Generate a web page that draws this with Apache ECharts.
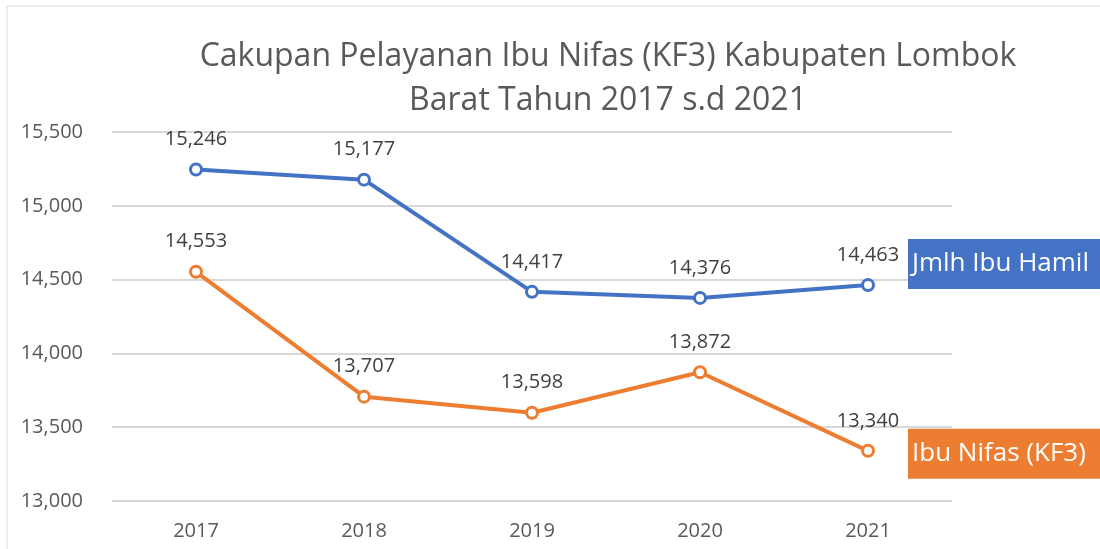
<!DOCTYPE html>
<html><head><meta charset="utf-8">
<script src="https://cdn.jsdelivr.net/npm/echarts@6/dist/echarts.min.js"></script>
<style>html,body{margin:0;padding:0;background:#fff}#c{width:1100px;height:549px}</style>
</head><body><div id="c"></div>
<script>
const categories = ['2017','2018','2019','2020','2021'];
const ibuHamil = [15246, 15177, 14417, 14376, 14463];
const ibuNifas = [14553, 13707, 13598, 13872, 13340];
const yTicks = {min: 13000, max: 15500, interval: 500};
const FONT = '"Open Sans", "Noto Sans", sans-serif';

const chart = echarts.init(document.getElementById('c'));
function mkSeries(name, data, color, endOffset) {
  return {
    name, type: 'line', data,
    symbol: 'circle', symbolSize: 11,
    lineStyle: {width: 4, color},
    itemStyle: {color: '#fff', borderColor: color, borderWidth: 3},
    label: {show: true, position: 'top', distance: 13, fontFamily: FONT, fontSize: 20, color: '#404040',
      formatter: p => p.value.toLocaleString('en-US')},
    endLabel: {show: true, formatter: '{a}', fontFamily: FONT, fontSize: 26, lineHeight: 30, color: '#fff',
      backgroundColor: color, padding: [10, 40, 10, 4], distance: 40, offset: endOffset},
    z: 3
  };
}
chart.setOption({
  animation: false,
  graphic: [{type: 'rect', shape: {x: 7, y: 6, width: 1300, height: 700},
    style: {fill: 'none', stroke: '#d9d9d9', lineWidth: 1}, silent: true, z: -1}],
  title: {text: 'Cakupan Pelayanan Ibu Nifas (KF3) Kabupaten Lombok\nBarat Tahun 2017 s.d 2021',
    left: 603, textAlign: 'center', top: 30,
    textStyle: {fontFamily: FONT, fontSize: 32, fontWeight: 'normal', color: '#595959', lineHeight: 44}},
  grid: {left: 112, right: 148, top: 132, bottom: 48, containLabel: false},
  xAxis: {type: 'category', data: categories, boundaryGap: true,
    axisLine: {show: false}, axisTick: {show: false},
    axisLabel: {fontFamily: FONT, fontSize: 20, color: '#595959', margin: 20}},
  yAxis: {type: 'value', min: yTicks.min, max: yTicks.max, interval: yTicks.interval,
    axisLine: {show: false}, axisTick: {show: false},
    splitLine: {lineStyle: {color: '#d9d9d9', width: 2}},
    axisLabel: {fontFamily: FONT, fontSize: 20, color: '#595959', margin: 29,
      formatter: v => v.toLocaleString('en-US')}},
  series: [
    mkSeries('Jmlh Ibu Hamil', ibuHamil, '#4472C4', [0, -21]),
    mkSeries('Ibu Nifas (KF3)', ibuNifas, '#ED7D31', [0, 3])
  ]
});
</script></body></html>
